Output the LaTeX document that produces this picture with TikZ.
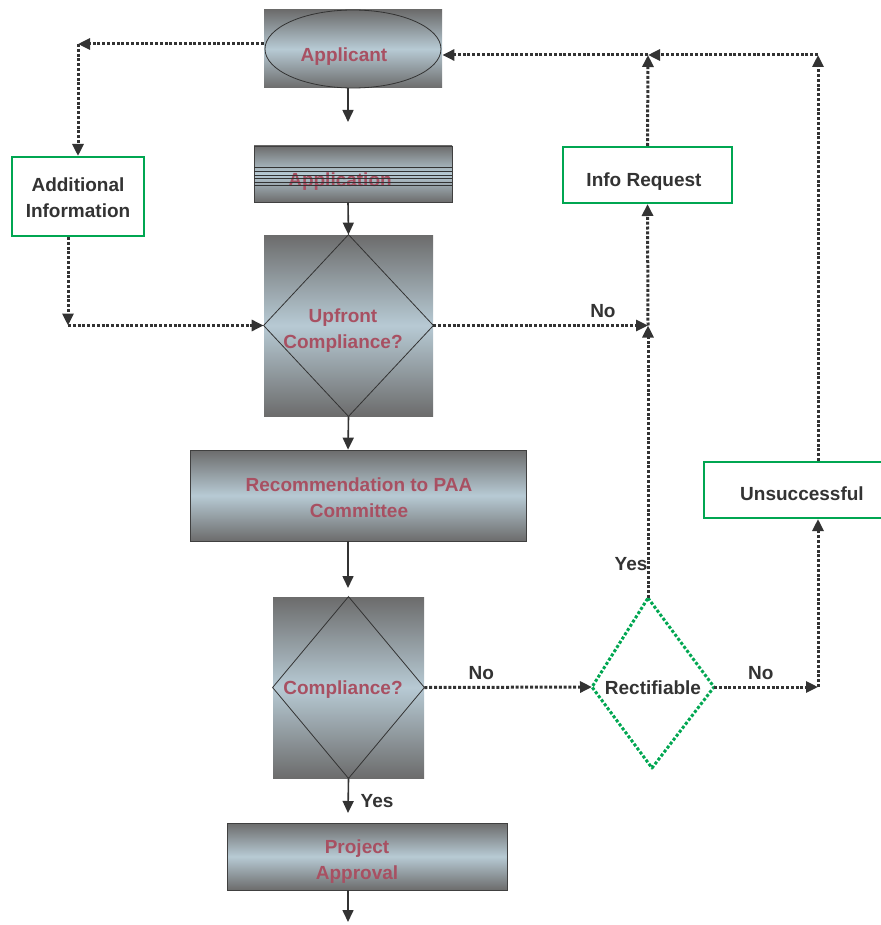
\documentclass[tikz,border=0pt]{standalone}
\usepackage{fontspec}
\setmainfont{Liberation Sans}
\usetikzlibrary{arrows.meta,calc}
\definecolor{boxgray}{RGB}{108,108,108}
\definecolor{boxblue}{RGB}{183,202,212}
\definecolor{boxred}{RGB}{168,80,98}
\definecolor{inkgray}{RGB}{51,51,51}
\definecolor{okgreen}{RGB}{0,166,81}
\def\boxfont{\bfseries\fontsize{9.5}{13}\selectfont}
\tikzset{
	shadebox/.style={draw=black!75, line width=0.4pt, shading=axis, top color=boxgray, bottom color=boxgray, middle color=boxblue, inner sep=0pt},
	greenbox/.style={draw=okgreen, line width=1pt, fill=white, inner sep=0pt},
	redtext/.style={font=\boxfont, text=boxred, align=center},
	greytext/.style={font=\boxfont, text=inkgray, align=center},
	flow/.style={draw=inkgray, line width=0.8pt, -{Triangle[length=6pt,width=5.5pt]}},
	dotflow/.style={flow, line width=1.5pt, dash pattern=on 1.5pt off 0.9pt},
	greendot/.style={draw=okgreen, line width=1.5pt, dash pattern=on 1.5pt off 1pt, line join=round},
	yesno/.style={font=\boxfont, text=inkgray, inner sep=1pt},
}

\begin{document}
\begin{tikzpicture}[x=0.5pt, y=-0.5pt]
			%%%%% START %%%%%
			\useasboundingbox (0,0) rectangle (880,925);
			\coordinate (spine) at (348,0);
			
			% main column
			\node[shadebox, draw=none, minimum width=89pt, minimum height=39pt] (app) at (353,49) {};
			\draw[black!80, line width=0.4pt] (app.center) ellipse [x radius=44pt, y radius=19.5pt];
			\node[redtext] (apptxt) at (344,57) {Applicant};
			
			\node[shadebox, minimum width=99pt, minimum height=28pt] (appl) at (353,174) {};
			\node[redtext] (appltxt) at (340,182) {Application};
			\foreach \ly in {168,172,176,179,183,186}
				\draw[black!80, line width=0.5pt] (254,\ly) -- (452,\ly);
			
			\node[shadebox, draw=none, minimum width=84.5pt, minimum height=90.5pt] (up) at (348.5,325.5) {};
			\draw[black!80, line width=0.4pt] (up.north) -- (up.east) -- (up.south) -- (up.west) -- cycle;
			\node[redtext] (uptxt) at (343,331) {Upfront\\Compliance?};
			
			\node[shadebox, minimum width=168pt, minimum height=45.5pt] (recom) at (358,495.5) {};
			\node[redtext] (recomtxt) at (359,498) {Recommendation to PAA\\Committee};
			
			\node[shadebox, draw=none, minimum width=75.5pt, minimum height=90.5pt] (comp) at (348.5,687.5) {};
			\draw[black!80, line width=0.4pt] (comp.north) -- (comp.east) -- (comp.south) -- (comp.west) -- cycle;
			\node[redtext] (comptxt) at (343,690) {Compliance?};
			
			\node[shadebox, minimum width=140pt, minimum height=33.5pt] (proj) at (367,856.5) {};
			\node[redtext] (projtxt) at (357,862) {Project\\Approval};
			
			% side boxes
			\node[greenbox, minimum width=66pt, minimum height=39.5pt] (addinfo) at (78,196.5) {};
			\node[greytext] (addtxt) at (78,198) {Additional\\Information};
			\node[greenbox, minimum width=84.5pt, minimum height=28pt] (inforeq) at (647.5,175) {};
			\node[greytext] (infotxt) at (644,182) {Info Request};
			\node[greenbox, minimum width=96pt, minimum height=28pt] (unsucc) at (800,490) {};
			\node[greytext] (unsucctxt) at (802,494) {Unsuccessful};
			
			\coordinate (rtop) at (648,598);
			\coordinate (rleft) at (592,687);
			\coordinate (rright) at (714,687);
			\coordinate (rbot) at (652,768);
			\draw[greendot] (rtop) -- (rright) -- (rbot) -- (rleft) -- cycle;
			\node[greytext] (rtxt) at (653,688) {Rectifiable};
			
			% solid arrows
			\coordinate (appgap) at (348,122);
			\coordinate (compgap) at (348,588);
			\coordinate (yesgap) at (348,813);
			\coordinate (endgap) at (348,922);
			\draw[flow] (app.south -| spine) -- (appgap);
			\draw[flow] (appl.south -| spine) -- (up.north);
			\draw[flow] (up.south) -- (recom.north -| spine);
			\draw[flow] (recom.south -| spine) -- (compgap);
			\draw[flow] (comp.south) -- (yesgap);
			\draw[flow] (proj.south -| spine) -- (endgap);
			\node[yesno] (yes1) at (377,801) {Yes};
			
			% dotted loops
			\coordinate (lefttop) at (78,44);
			\coordinate (leftlow) at (68,325.5);
			\draw[dotflow] (app.west |- lefttop) -- (lefttop);
			\draw[dotflow] (lefttop) -- (addinfo.north);
			\draw[dotflow] (addinfo.south -| leftlow) -- (leftlow);
			\draw[dotflow] (leftlow) -- (up.west);
			
			\coordinate (nojoin) at (648,325.5);
			\coordinate (topjoin) at (648,55);
			\coordinate (farright) at (818,55);
			\coordinate (rnojoin) at (818,687);
			\draw[dotflow] (up.east) -- (nojoin) node[yesno, pos=0.79, above=2pt] (no1) {No};
			\draw[dotflow] (rtop) -- (nojoin);
			\node[yesno] (yes2) at (631,564) {Yes};
			\draw[dotflow] (nojoin) -- (inforeq.south);
			\draw[dotflow] (inforeq.north) -- (topjoin);
			\draw[dotflow] (farright) -- (topjoin);
			\draw[dotflow] (topjoin) -- (app.east |- topjoin);
			\draw[dotflow] (unsucc.north -| farright) -- (farright);
			\draw[dotflow] (comp.east) -- (rleft) node[yesno, pos=0.34, above=2pt] (no2) {No};
			\draw[dotflow] (rright) -- (rnojoin) node[yesno, pos=0.45, above=2pt] (no3) {No};
			\draw[dotflow] (rnojoin) -- (unsucc.south -| rnojoin);
			%%%%% END %%%%%
\end{tikzpicture}
\end{document}
